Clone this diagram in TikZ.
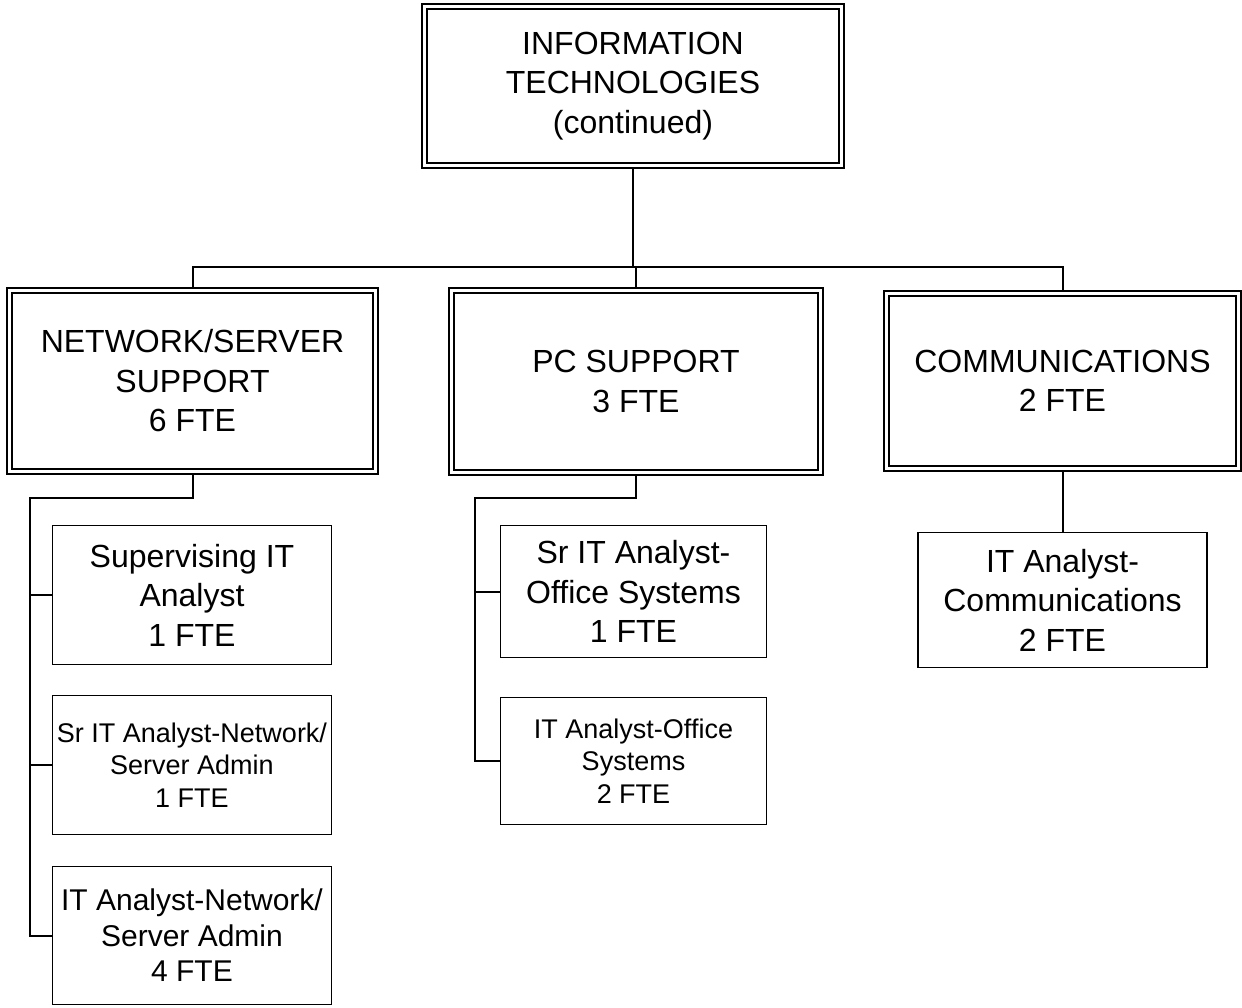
\documentclass[tikz,border=0pt]{standalone}
\usepackage{fontspec}
\setmainfont{Liberation Sans}
\begin{document}
\begin{tikzpicture}[x=1pt,y=-1pt,
  dbox/.style={draw=black, line width=2pt, double=white, double distance=3pt,
    outer sep=3.5pt, inner sep=0pt, align=center, fill=white,
    font=\fontsize{32}{39.5}\selectfont},
  sbox/.style={draw=black, line width=1.8pt, inner sep=0pt, outer sep=0.9pt,
    align=center, fill=white},
  big/.style={font=\fontsize{32}{39.5}\selectfont},
  mid/.style={font=\fontsize{30}{35.5}\selectfont},
  small/.style={font=\fontsize{27}{32.5}\selectfont},
  conn/.style={draw=black, line width=2pt}]
\useasboundingbox (0,0) rectangle (1242,1008);

% top level
\node[dbox, minimum width=417pt, minimum height=159pt] (top) at (633,86)
  {INFORMATION\\TECHNOLOGIES\\(continued)};

% second level
\node[dbox, minimum width=366pt, minimum height=181pt] (net) at (192.5,381)
  {NETWORK/SERVER\\SUPPORT\\6 FTE};
\node[dbox, minimum width=369pt, minimum height=182pt] (pc) at (636,381.5)
  {PC SUPPORT\\3 FTE};
\node[dbox, minimum width=352pt, minimum height=175pt] (comm) at (1062.5,381)
  {COMMUNICATIONS\\2 FTE};

% third level
\node[sbox, big, minimum width=279pt, minimum height=139pt] (sup) at (192,595)
  {Supervising IT\\Analyst\\1 FTE};
\node[sbox, small, minimum width=279pt, minimum height=139pt] (srnet) at (192,765)
  {Sr IT Analyst-Network/\\Server Admin\\1 FTE};
\node[sbox, mid, minimum width=279pt, minimum height=138pt] (itnet) at (192,935.5)
  {IT Analyst-Network/\\Server Admin\\4 FTE};
\node[sbox, big, minimum width=266pt, minimum height=132pt] (sroff) at (633.5,591.5)
  {Sr IT Analyst-\\Office Systems\\1 FTE};
\node[sbox, small, minimum width=266pt, minimum height=127pt] (itoff) at (633.5,761)
  {IT Analyst-Office\\Systems\\2 FTE};
\node[sbox, big, minimum width=289pt, minimum height=135pt] (itcomm) at (1062.5,600)
  {IT Analyst-\\Communications\\2 FTE};

% connectors
\coordinate (bus) at (0,267);
\coordinate (nl) at (30,498);
\coordinate (pl) at (475,498);

\draw[conn] (top.south) -- (top.south |- bus);
\draw[conn] (net.north) |- (comm.north |- bus) -- (comm.north);
\draw[conn] (pc.north) -- (pc.north |- bus);

\draw[conn] (net.south) |- (nl) |- (itnet.west);
\draw[conn] (nl |- sup.west) -- (sup.west);
\draw[conn] (nl |- srnet.west) -- (srnet.west);

\draw[conn] (pc.south) |- (pl) |- (itoff.west);
\draw[conn] (pl |- sroff.west) -- (sroff.west);

\draw[conn] (comm.south) -- (itcomm.north);
\end{tikzpicture}
\end{document}
